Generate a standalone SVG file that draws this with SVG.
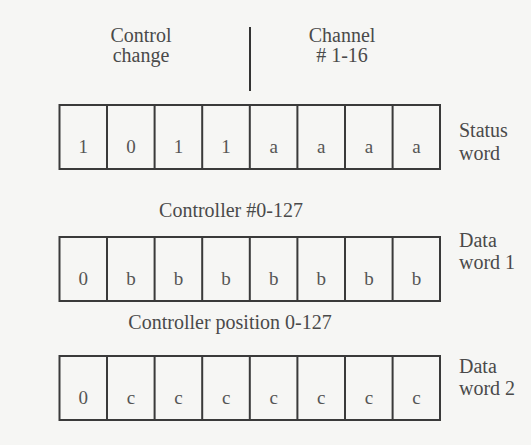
<svg xmlns="http://www.w3.org/2000/svg" width="531" height="445" viewBox="0 0 531 445" font-family="'Liberation Serif', 'Times New Roman', serif">
<style>
text{font-family:'Liberation Serif','Times New Roman',serif;fill:#4a4a4a;font-size:20px}
.c{text-anchor:middle}
.cell{fill:none;stroke:#3a3a3a;stroke-width:2}
.bit{text-anchor:middle;font-size:19px;fill:#555}
</style>
<rect x="0" y="0" width="531" height="445" fill="#f6f6f4"/>
<g id="header">
<text class="c" x="141" y="42">Control</text>
<text class="c" x="141" y="62">change</text>
<text class="c" x="342" y="42">Channel</text>
<text class="c" x="342" y="62"># 1-16</text>
</g>
<g id="connectors">
<line x1="250" y1="27" x2="250" y2="91" stroke="#333" stroke-width="2"/>
</g>
<g id="status-word">
<rect class="cell" x="59.5" y="105" width="380.5" height="64"/>
<path class="cell" d="M107 105V169M154.6 105V169M202.2 105V169M249.8 105V169M297.4 105V169M345 105V169M392.6 105V169"/>
<text class="bit" x="83.3" y="153">1</text>
<text class="bit" x="130.9" y="153">0</text>
<text class="bit" x="178.5" y="153">1</text>
<text class="bit" x="226.1" y="153">1</text>
<text class="bit" x="273.7" y="153">a</text>
<text class="bit" x="321.3" y="153">a</text>
<text class="bit" x="368.9" y="153">a</text>
<text class="bit" x="416.5" y="153">a</text>
<text x="459" y="137">Status</text>
<text x="459" y="160">word</text>
</g>
<g id="data-word-1">
<text class="c" x="231" y="217">Controller #0-127</text>
<rect class="cell" x="59.5" y="237" width="380.5" height="64"/>
<path class="cell" d="M107 237V301M154.6 237V301M202.2 237V301M249.8 237V301M297.4 237V301M345 237V301M392.6 237V301"/>
<text class="bit" x="83.3" y="285">0</text>
<text class="bit" x="130.9" y="285">b</text>
<text class="bit" x="178.5" y="285">b</text>
<text class="bit" x="226.1" y="285">b</text>
<text class="bit" x="273.7" y="285">b</text>
<text class="bit" x="321.3" y="285">b</text>
<text class="bit" x="368.9" y="285">b</text>
<text class="bit" x="416.5" y="285">b</text>
<text x="459" y="247">Data</text>
<text x="459" y="269">word 1</text>
</g>
<g id="data-word-2">
<text class="c" x="230" y="329">Controller position 0-127</text>
<rect class="cell" x="59.5" y="356" width="380.5" height="64"/>
<path class="cell" d="M107 356V420M154.6 356V420M202.2 356V420M249.8 356V420M297.4 356V420M345 356V420M392.6 356V420"/>
<text class="bit" x="83.3" y="404">0</text>
<text class="bit" x="130.9" y="404">c</text>
<text class="bit" x="178.5" y="404">c</text>
<text class="bit" x="226.1" y="404">c</text>
<text class="bit" x="273.7" y="404">c</text>
<text class="bit" x="321.3" y="404">c</text>
<text class="bit" x="368.9" y="404">c</text>
<text class="bit" x="416.5" y="404">c</text>
<text x="459" y="373">Data</text>
<text x="459" y="395">word 2</text>
</g>
</svg>
